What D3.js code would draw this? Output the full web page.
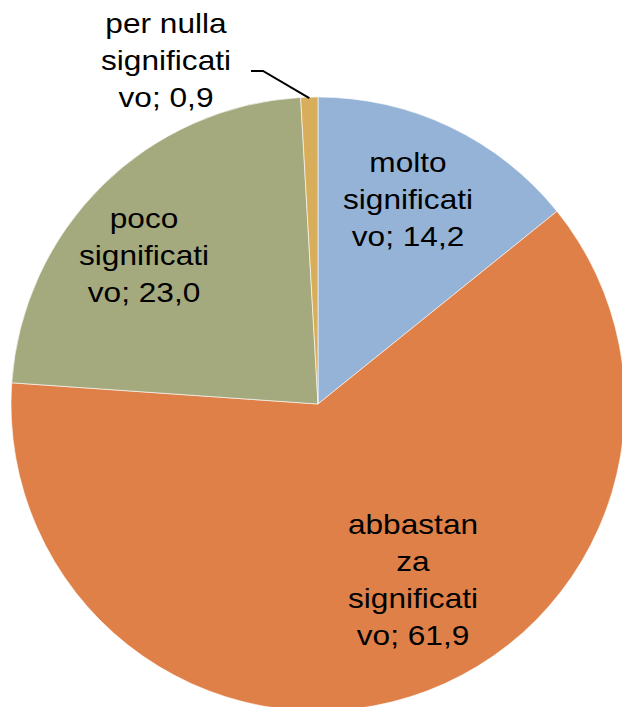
<!DOCTYPE html>
<html>
<head>
<meta charset="utf-8">
<script src="https://cdn.jsdelivr.net/npm/d3@7"></script>
<style>
  body { margin: 0; background: #fff; }
  svg text { font-family: "Liberation Sans", Arial, sans-serif; font-size: 28px; fill: #000; }
</style>
</head>
<body>
<div id="chart"></div>
<script>
// dati
const categories = ['molto significativo', 'abbastanza significativo', 'poco significativo', 'per nulla significativo'];
const values = [14.2, 61.9, 23.0, 0.9];
const colors = ['#95B3D7', '#DF8049', '#A4AA7E', '#D9AE5A'];
const labelLines = [
    ['molto', 'significati', 'vo; 14,2'],
    ['abbastan', 'za', 'significati', 'vo; 61,9'],
    ['poco', 'significati', 'vo; 23,0'],
    ['per nulla', 'significati', 'vo; 0,9']
];

const width = 622, height = 707;
const cx = 318, cy = 404, radius = 307;
// posizione etichette (baseline della prima riga)
const labelPos = [[408, 172], [413, 534], [144, 228], [166, 33]];

let svg = d3.select('#chart').append('svg')
    .attr('width', width)
    .attr('height', height);

let g = svg.append('g').attr('transform', 'translate(' + cx + ',' + cy + ')');

let pie = d3.pie().sort(null).value(d => d);
let arc = d3.arc().innerRadius(0).outerRadius(radius);
let arcs = pie(values);

g.selectAll('path')
    .data(arcs)
    .enter()
    .append('path')
    .attr('d', arc)
    .attr('fill', (d, i) => colors[i])
    .attr('stroke', '#fff')
    .attr('stroke-width', 0.6);

// linea guida per "per nulla"
let small = arcs[3];
let mid = (small.startAngle + small.endAngle) / 2;
let p0 = [Math.sin(mid) * radius + cx, -Math.cos(mid) * radius + cy];
svg.append('polyline')
    .attr('points', [[251, 71], [263, 71], [p0[0], p0[1] + 1]].map(p => p.join(',')).join(' '))
    .attr('fill', 'none')
    .attr('stroke', '#000')
    .attr('stroke-width', 2);

// etichette
labelLines.forEach(function(lines, i) {
    let lx = labelPos[i][0], ly = labelPos[i][1];
    let t = svg.append('text')
        .attr('text-anchor', 'middle')
        .attr('transform', 'translate(' + lx + ',' + ly + ') scale(1.13,1)');
    lines.forEach(function(l, j) {
        t.append('tspan')
            .attr('x', 0)
            .attr('y', j * 37)
            .text(l);
    });
});
</script>
</body>
</html>
